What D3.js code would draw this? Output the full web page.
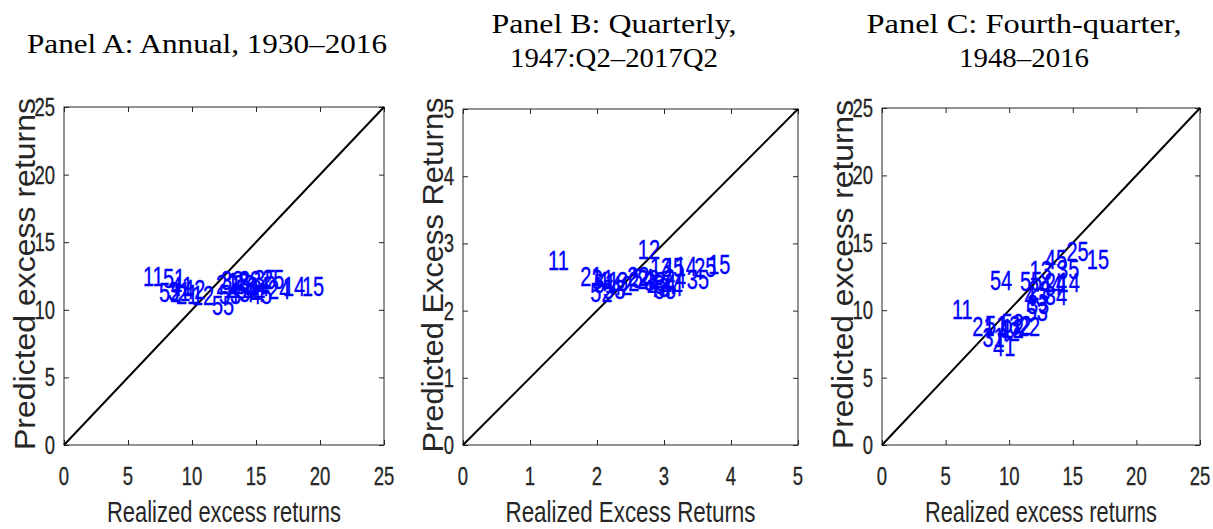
<!DOCTYPE html>
<html><head><meta charset="utf-8">
<script src="https://cdn.jsdelivr.net/npm/d3@7"></script>
<style>body{margin:0;background:#fff}svg{display:block}</style>
</head><body>
<script>
// ---- data ----
const portfolioLabels = ["11","12","13","14","15","21","22","23","24","25","31","32","33","34","35","41","42","43","44","45","51","52","53","54","55"];
const realizedA  = [6.17,10.0,12.73,17.11,18.59, 8.75,11.88,13.20,15.94,15.47, 8.13,12.27,13.67,14.30,14.84, 8.36,9.30,12.81,13.98,14.53, 7.73,7.42,12.11,13.44,11.56];
const predictedA = [12.43,11.02,11.98,11.69,11.69, 11.09,11.83,11.83,11.46,12.20, 11.32,12.13,12.13,11.69,12.20, 11.69,11.46,11.24,11.24,11.09, 12.28,11.24,11.09,11.46,10.28];
const realizedB  = [1.27,2.61,2.79,3.16,3.66, 1.75,2.45,2.60,3.00,3.45, 1.92,2.30,2.70,2.85,3.34, 2.00,2.20,2.75,2.95,2.97, 1.95,1.90,2.09,2.52,2.85];
const predictedB = [2.74,2.90,2.63,2.65,2.68, 2.50,2.50,2.45,2.47,2.63, 2.45,2.42,2.42,2.38,2.46, 2.42,2.36,2.33,2.35,2.63, 2.40,2.26,2.31,2.47,2.30];
const realizedC  = [5.50,9.4,11.6,13.8,16.1, 7.1,10.69,11.5,12.8,14.5, 7.9,10.0,11.4,12.8,13.76, 8.73,9.1,11.2,12.4,12.8, 8.1,9.4,11.3,8.49,10.85];
const predictedC = [10.01,8.6,12.9,12.0,13.72, 8.75,8.75,11.4,12.0,14.3, 7.95,8.8,10.4,11.05,12.98, 7.27,8.4,10.98,11.8,13.7, 8.85,9.0,9.9,12.17,12.1];
const ticksAC = [0,5,10,15,20,25];
const ticksB  = [0,1,2,3,4,5];
const titlesA = ["Panel A: Annual, 1930\u20132016"];
const titlesB = ["Panel B: Quarterly,", "1947:Q2\u20132017Q2"];
const titlesC = ["Panel C: Fourth-quarter,", "1948\u20132016"];
const xLabels = ["Realized excess returns","Realized Excess Returns","Realized excess returns"];
const yLabels = ["Predicted excess returns","Predicted Excess Returns","Predicted excess returns"];

// ---- drawing ----
const svg = d3.select("body").append("svg").attr("width",1213).attr("height",529);
const axisCol = "#262626";
const sx = 0.74;
const sans = "Liberation Sans, Arial, sans-serif";

const panels = [
  {x0:64,x1:384,y0:107,y1:445,max:25,ticks:ticksAC,rx:realizedA,py:predictedA,titles:titlesA,
   tcx:207,tBase:[53],tLen:[360],xl:xLabels[0],xlLen:234,yl:yLabels[0],ylX:35,ylLen:352},
  {x0:463,x1:798,y0:109,y1:445,max:5,ticks:ticksB,rx:realizedB,py:predictedB,titles:titlesB,
   tcx:614,tBase:[33,67],tLen:[245,208],xl:xLabels[1],xlLen:250,yl:yLabels[1],ylX:443,ylLen:355},
  {x0:882,x1:1200,y0:108,y1:445,max:25,ticks:ticksAC,rx:realizedC,py:predictedC,titles:titlesC,
   tcx:1024,tBase:[33,67],tLen:[315,130],xl:xLabels[2],xlLen:232,yl:yLabels[2],ylX:853,ylLen:349}
];

panels.forEach(p => {
  const x = d3.scaleLinear().domain([0,p.max]).range([p.x0,p.x1]);
  const y = d3.scaleLinear().domain([0,p.max]).range([p.y1,p.y0]);
  const g = svg.append("g");

  g.append("rect").attr("x",p.x0).attr("y",p.y0).attr("width",p.x1-p.x0).attr("height",p.y1-p.y0)
    .attr("fill","none").attr("stroke",axisCol).attr("stroke-width",1);

  const mk = (ax) => ax.tickValues(p.ticks).tickSize(-5).tickSizeOuter(0).tickFormat("");
  [[d3.axisBottom(x),`translate(0,${p.y1})`],[d3.axisTop(x),`translate(0,${p.y0})`],
   [d3.axisLeft(y),`translate(${p.x0},0)`],[d3.axisRight(y),`translate(${p.x1},0)`]].forEach(([ax,tr])=>{
    const a = g.append("g").attr("transform",tr).call(mk(ax));
    a.select(".domain").remove();
    a.selectAll("line").attr("stroke",axisCol);
  });

  p.ticks.forEach(t => {
    g.append("g").attr("transform",`translate(${x(t)},485) scale(${sx},1)`)
      .append("text").attr("text-anchor","middle").attr("font-family",sans)
      .attr("font-size",25).attr("fill",axisCol).attr("stroke",axisCol).attr("stroke-width",0.3).text(t);
    g.append("g").attr("transform",`translate(${p.x0-9},${y(t)+9}) scale(${sx},1)`)
      .append("text").attr("text-anchor","end").attr("font-family",sans)
      .attr("font-size",25).attr("fill",axisCol).attr("stroke",axisCol).attr("stroke-width",0.3).text(t);
  });

  g.append("line").attr("x1",x(0)).attr("y1",y(0)).attr("x2",x(p.max)).attr("y2",y(p.max))
    .attr("stroke","#000").attr("stroke-width",2);

  portfolioLabels.forEach((lab,i) => {
    g.append("g").attr("transform",`translate(${x(p.rx[i])},${y(p.py[i])+9}) scale(${sx},1)`)
      .append("text").attr("font-family",sans).attr("font-size",27)
      .attr("fill","#0000ff").attr("stroke","#0000ff").attr("stroke-width",0.35).text(lab);
  });

  g.append("text").attr("x",(p.x0+p.x1)/2).attr("y",522).attr("text-anchor","middle")
    .attr("font-family",sans).attr("font-size",29).attr("fill",axisCol)
    .attr("textLength",p.xlLen).attr("lengthAdjust","spacingAndGlyphs").text(p.xl);
  g.append("text").attr("transform",`translate(${p.ylX},${(p.y0+p.y1)/2-2}) rotate(-90)`).attr("text-anchor","middle")
    .attr("font-family",sans).attr("font-size",29).attr("fill",axisCol)
    .attr("textLength",p.ylLen).attr("lengthAdjust","spacingAndGlyphs").text(p.yl);

  p.titles.forEach((t,j) => {
    g.append("text").attr("x",p.tcx).attr("y",p.tBase[j]).attr("text-anchor","middle")
      .attr("font-family","Liberation Serif, Times New Roman, serif").attr("font-size",27).attr("fill","#000")
      .attr("textLength",p.tLen[j]).attr("lengthAdjust","spacingAndGlyphs").text(t);
  });
});
</script>
</body></html>
